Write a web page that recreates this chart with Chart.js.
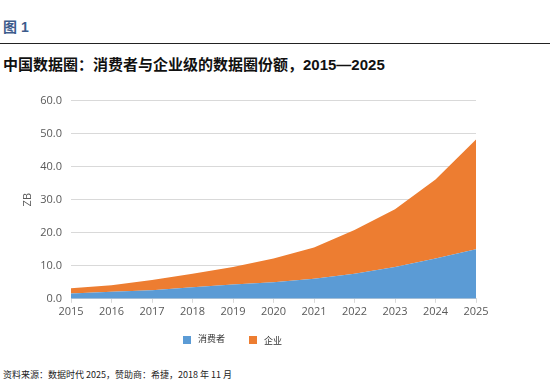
<!DOCTYPE html>
<html><head><meta charset="utf-8">
<script src="https://cdn.jsdelivr.net/npm/chart.js@4/dist/chart.umd.min.js"></script>
<style>
html,body{margin:0;padding:0;background:#fff;width:550px;height:383px;overflow:hidden;position:relative;}
#fig{position:absolute;left:3px;top:16px;font:bold 14px "Liberation Sans","Noto Sans CJK SC",sans-serif;color:#3d5c8c;}
#rule{position:absolute;left:0;top:43px;width:550px;height:1px;background:#222;}
#title{position:absolute;left:3px;top:53px;font:bold 15px "Liberation Sans","Noto Sans CJK SC",sans-serif;color:#111;}
#src{position:absolute;left:3px;top:368px;font:9px "Noto Sans CJK SC","Liberation Sans",sans-serif;color:#222;}
#wrap{position:absolute;left:0;top:85px;width:550px;height:270px;}
</style></head><body>
<div id="fig">图 1</div>
<div id="rule"></div>
<div id="title">中国数据圈：消费者与企业级的数据圈份额，2015—2025</div>
<div id="wrap"><canvas id="c" width="550" height="270"></canvas></div>
<div id="src">资料来源：数据时代 2025，赞助商：希捷，2018 年 11 月</div>
<script>
const years = ['2015','2016','2017','2018','2019','2020','2021','2022','2023','2024','2025'];
const consumer = [1.6, 2.1, 2.6, 3.5, 4.3, 5.0, 6.1, 7.6, 9.6, 12.2, 15.0];
const enterprise = [1.6, 2.0, 3.1, 4.1, 5.3, 7.2, 9.4, 13.2, 17.5, 23.9, 33.2];
const seriesNames = ['消费者','企业'];
const yTicks = [0, 10, 20, 30, 40, 50, 60];

const legendPlugin = {
  id: 'customLegend',
  afterDraw(chart) {
    const ctx = chart.ctx;
    ctx.save();
    ctx.font = '9px "Noto Sans CJK SC", sans-serif';
    ctx.textBaseline = 'middle';
    const y = 255;
    const xs = [183, 249];
    chart.data.datasets.forEach((ds, i) => {
      ctx.fillStyle = ds.backgroundColor;
      ctx.fillRect(xs[i], y - 4, 8, 8);
      ctx.fillStyle = '#333';
      ctx.fillText(ds.label, xs[i] + 15, y - 1 + i * 2);
    });
    ctx.restore();
  }
};

new Chart(document.getElementById('c'), {
  type: 'line',
  data: {
    labels: years,
    datasets: [
      { label: seriesNames[0], data: consumer, backgroundColor: '#5b9bd5', borderColor: '#5b9bd5', borderWidth: 0, fill: 'origin', pointRadius: 0, tension: 0 },
      { label: seriesNames[1], data: enterprise, backgroundColor: '#ed7d31', borderColor: '#ed7d31', borderWidth: 0, fill: '-1', pointRadius: 0, tension: 0 }
    ]
  },
  options: {
    responsive: false,
    animation: false,
    layout: { padding: { top: 8, right: 74, bottom: 35, left: 0 } },
    plugins: { legend: { display: false }, tooltip: { enabled: false } },
    scales: {
      x: {
        offset: false,
        grid: { display: true, drawOnChartArea: false, drawTicks: true, tickLength: 4, color: '#d9d9d9' },
        border: { display: true, color: '#d9d9d9' },
        ticks: { color: '#595959', font: { family: 'Open Sans', size: 11 }, maxRotation: 0, padding: 2 }
      },
      y: {
        stacked: true,
        min: 0, max: 60,
        afterBuildTicks: (axis) => { axis.ticks = yTicks.map(v => ({ value: v })); },
        afterFit: (axis) => { axis.width = 71; },
        grid: { color: '#d9d9d9', drawTicks: false },
        border: { display: false },
        ticks: { color: '#595959', font: { family: 'Open Sans', size: 11 }, padding: 9, callback: v => v.toFixed(1) },
        title: { display: true, text: 'ZB', color: '#595959', font: { family: 'Open Sans', size: 11 }, padding: { top: 21, bottom: 0 } }
      }
    }
  },
  plugins: [legendPlugin]
});
</script>
</body></html>
